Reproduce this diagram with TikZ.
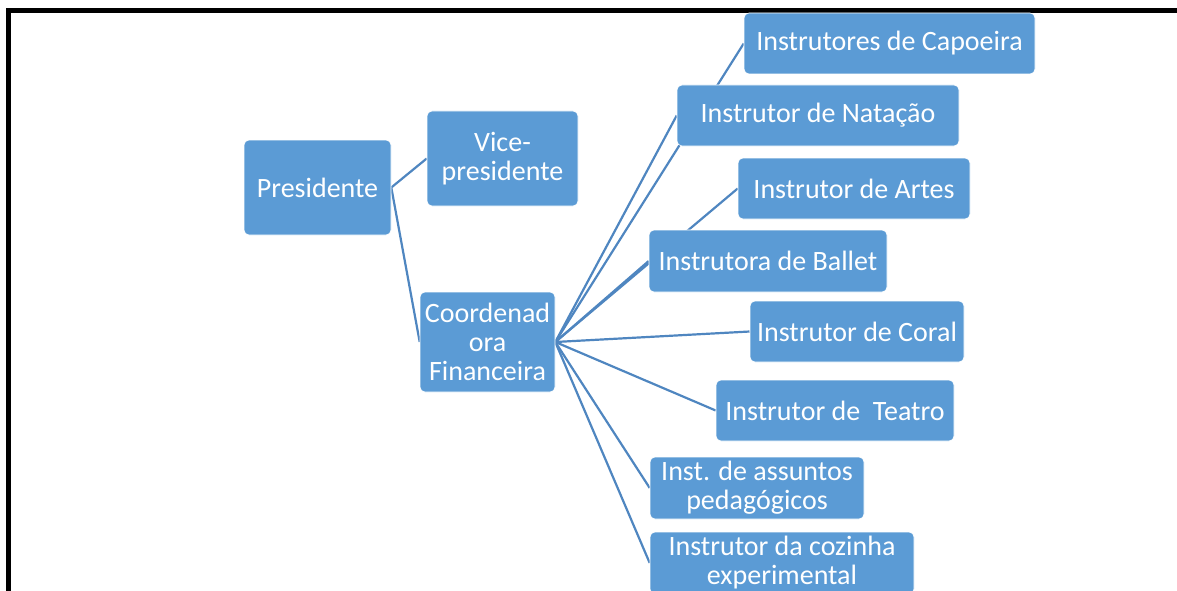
\documentclass[tikz,border=0pt]{standalone}
\usepackage{fontspec}
\setmainfont{Carlito}
\pgfdeclarelayer{bg}
\pgfsetlayers{bg,main}

\begin{document}
\begin{tikzpicture}[x=1pt, y=-1pt,
        box/.style={draw=white, line width=0.6pt, fill=boxblue, text=white, rounded corners=5pt,
            align=center, inner sep=1pt, font=\fontsize{28}{29}\selectfont},
        link/.style={draw=lineblue, line width=2.2pt}]
        \definecolor{boxblue}{HTML}{5B9BD5}
        \definecolor{lineblue}{HTML}{4F86C0}
        \useasboundingbox (0, 0) rectangle (1177, 591);
        \clip (0, 0) rectangle (1177, 591);

        % frame
        \draw[line width=5pt] (8, 600) -- (8, 11) -- (1190, 11);

        \node[box, minimum width=147, minimum height=95] (pres) at (317.5, 187.5) {Presidente};
        \node[box, minimum width=151, minimum height=95] (vice) at (502.5, 158.5) {Vice-\\presidente};
        \node[box, minimum width=135, minimum height=100] (coord) at (487.5, 342) {Coordenad\\ora\\Financeira};

        \node[box, minimum width=291, minimum height=61] (capoeira) at (889.5, 43.5) {Instrutores de Capoeira};
        \node[box, minimum width=282, minimum height=61] (natacao) at (818, 115.5) {Instrutor de Natação};
        \node[box, minimum width=232, minimum height=61] (artes) at (854, 188.5) {Instrutor de Artes};
        \node[box, minimum width=238, minimum height=62] (ballet) at (768, 261) {Instrutora de Ballet};
        \node[box, minimum width=214, minimum height=61] (coral) at (857, 331.5) {Instrutor de Coral};
        \node[box, minimum width=238, minimum height=61] (teatro) at (835, 410.5) {Instrutor de\ \ Teatro};
        \node[box, minimum width=214, minimum height=62] (pedag) at (757, 488) {Inst. de assuntos\\pedagógicos};
        \node[box, minimum width=264, minimum height=62] (cozinha) at (782, 563) {Instrutor da cozinha\\experimental};

        \begin{pgfonlayer}{bg}
            \draw[link] (pres.east) -- (vice.west);
            \draw[link] (pres.east) -- (coord.west);
            \foreach \n in {capoeira, natacao, artes, ballet, coral, teatro, pedag, cozinha}
                \draw[link] (coord.east) -- (\n.west);
        \end{pgfonlayer}
    \end{tikzpicture}
\end{document}
